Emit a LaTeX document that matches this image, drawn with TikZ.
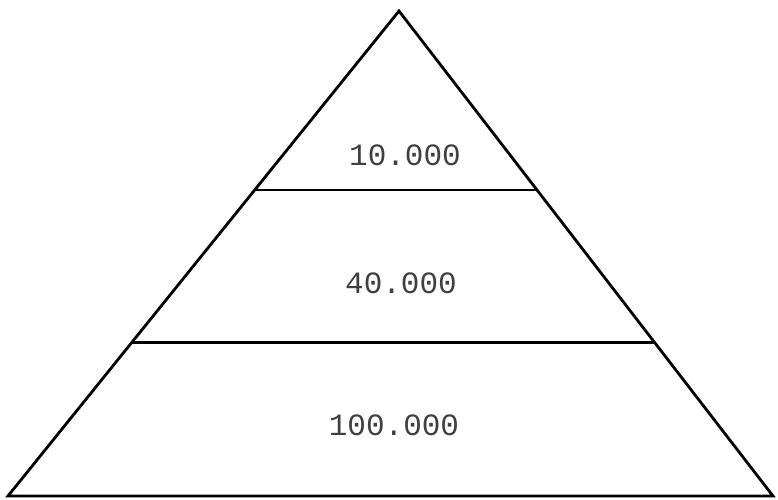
\documentclass[tikz,border=0pt]{standalone}
\usepackage{fontspec}
\setmonofont{Liberation Mono}
\usepackage{tikz}
\usetikzlibrary{calc}
\tikzset{
  level/.style={font=\ttfamily\fontsize{15.5}{16}\selectfont, text=black!75},
}

\begin{document}
\begin{tikzpicture}[x=0.5pt,y=-0.5pt]
        \useasboundingbox (0,0) rectangle (778,499);
        \coordinate (top) at (399,11);
        \coordinate (bl) at (8,496);
        \coordinate (br) at (773,496);
        \draw[line width=1.4pt, line join=miter] (bl) -- (top) -- (br) -- cycle;
        \draw[line width=1.4pt] ($(bl)!0.631!(top)$) -- ($(br)!0.631!(top)$);
        \draw[line width=1.4pt] ($(bl)!0.316!(top)$) -- ($(br)!0.316!(top)$);
        \node[level] (n10) at (405,155) {10.000};
        \node[level] (n40) at (401,283) {40.000};
        \node[level] (n100) at (394,425) {100.000};
    \end{tikzpicture}
\end{document}
